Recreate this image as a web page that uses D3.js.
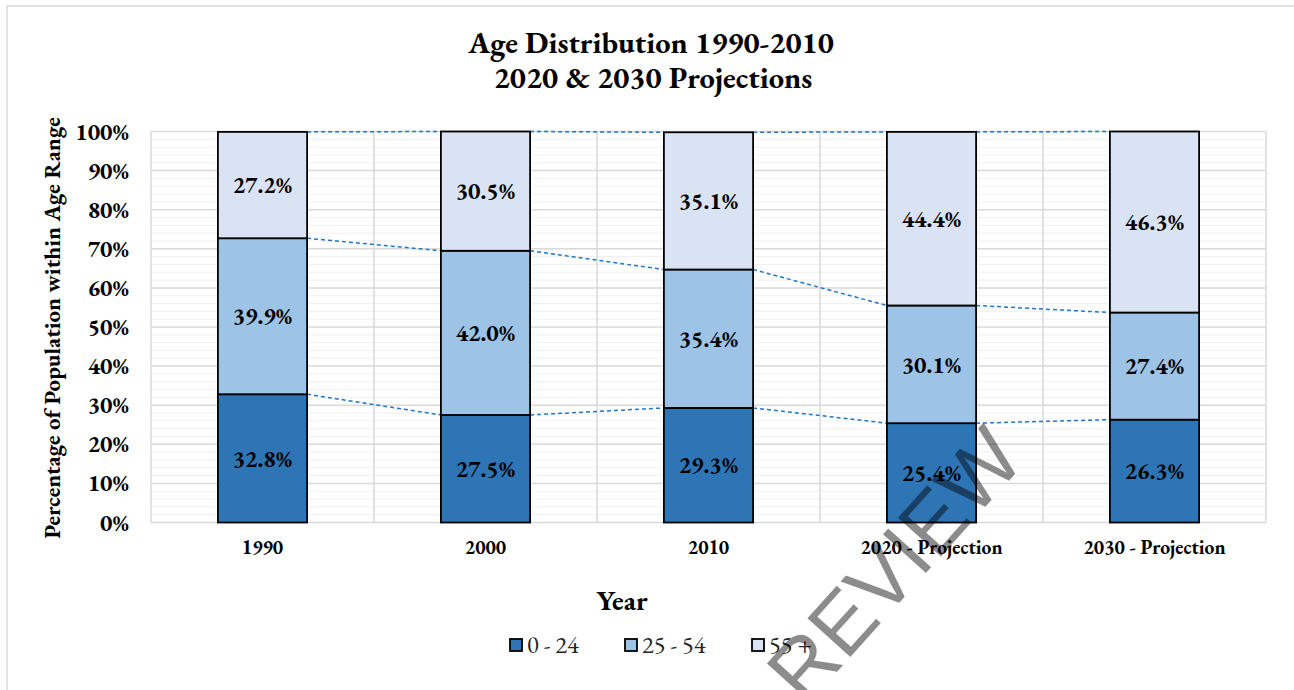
<!DOCTYPE html>
<html>
<head>
<meta charset="utf-8">
<script src="https://cdn.jsdelivr.net/npm/d3@7"></script>
<style>
  html, body { margin: 0; padding: 0; background: #fff; }
  svg { display: block; }
  text.g { font-family: 'EB Garamond', 'Liberation Serif', serif; }
</style>
</head>
<body>
<svg id="chart" width="1294" height="690"></svg>
<script>
const categories = ["1990", "2000", "2010", "2020 - Projection", "2030 - Projection"];
const seriesNames = ["0 - 24", "25 - 54", "55 +"];
const age0to24 = [32.8, 27.5, 29.3, 25.4, 26.3];
const age25to54 = [39.9, 42.0, 35.4, 30.1, 27.4];
const age55plus = [27.2, 30.5, 35.1, 44.4, 46.3];
const yTicks = [0, 10, 20, 30, 40, 50, 60, 70, 80, 90, 100];
const colors = ["#2e75b6", "#9dc3e6", "#dae3f3"];

const seriesValues = [age0to24, age25to54, age55plus];
const rows = categories.map((c, i) => {
  const r = { cat: c };
  seriesNames.forEach((s, j) => r[s] = seriesValues[j][i]);
  return r;
});
const stacked = d3.stack().keys(seriesNames)(rows);

const svg = d3.select("#chart");
const pLeft = 151, pRight = 1266, pTop = 131.5, pBottom = 522.5;

// outer frame
svg.append("rect").attr("x", 7).attr("y", 6).attr("width", 1300).attr("height", 700)
  .attr("fill", "none").attr("stroke", "#d9d9d9").attr("stroke-width", 1.5);

const x = d3.scaleBand().domain(categories).range([pLeft, pRight]).paddingInner(0.6).paddingOuter(0.3);
const y = d3.scaleLinear().domain([0, 100]).range([pBottom, pTop]);

// minor gridlines
const minor = d3.range(0, 101, 2).filter(v => v % 10 !== 0);
svg.append("g").selectAll("line").data(minor).join("line")
  .attr("x1", pLeft).attr("x2", pRight).attr("y1", d => y(d)).attr("y2", d => y(d))
  .attr("stroke", "#f0f0f0").attr("stroke-width", 1);

// major gridlines
svg.append("g").selectAll("line").data(yTicks).join("line")
  .attr("x1", pLeft).attr("x2", pRight).attr("y1", d => y(d)).attr("y2", d => y(d))
  .attr("stroke", "#d9d9d9").attr("stroke-width", 1.5);

// vertical gridlines at category boundaries
const step = x.step();
const bounds = d3.range(categories.length + 1).map(i => pLeft + i * step);
svg.append("g").selectAll("line").data(bounds).join("line")
  .attr("x1", d => d).attr("x2", d => d).attr("y1", pTop).attr("y2", pBottom)
  .attr("stroke", "#d9d9d9").attr("stroke-width", 1.5);

// series lines (dashed connectors)
const bw = x.bandwidth();
stacked.forEach(layer => {
  for (let i = 0; i < categories.length - 1; i++) {
    const a = layer[i], b = layer[i + 1];
    svg.append("line")
      .attr("x1", x(categories[i]) + bw).attr("y1", y(a[1]))
      .attr("x2", x(categories[i + 1])).attr("y2", y(b[1]))
      .attr("stroke", "#1f77c8").attr("stroke-width", 1.5)
      .attr("stroke-dasharray", "4,3");
  }
});

// bars
stacked.forEach((layer, j) => {
  svg.append("g").selectAll("rect").data(layer).join("rect")
    .attr("x", d => x(d.data.cat))
    .attr("y", d => y(d[1]))
    .attr("width", bw)
    .attr("height", d => y(d[0]) - y(d[1]))
    .attr("fill", colors[j])
    .attr("stroke", "#000").attr("stroke-width", 1.8);
});

// labels
stacked.forEach((layer, j) => {
  svg.append("g").selectAll("text").data(layer).join("text")
    .attr("class", "g")
    .attr("x", d => x(d.data.cat) + bw / 2)
    .attr("y", d => y((d[0] + d[1]) / 2))
    .attr("dy", "0.35em")
    .attr("text-anchor", "middle")
    .attr("font-size", 23.5).attr("font-weight", "bold").attr("fill", "#000")
    .text(d => (d[1] - d[0]).toFixed(1) + "%");
});

// y axis
const yAxis = d3.axisLeft(y).tickValues(yTicks).tickFormat(d => d + "%").tickSize(0).tickPadding(0);
const yg = svg.append("g").attr("transform", `translate(${pLeft - 22},0)`).call(yAxis);
yg.select(".domain").remove();
yg.selectAll("text").attr("class", "g").attr("font-size", 23.5).attr("font-weight", "bold").attr("fill", "#000");

// x axis
const xAxis = d3.axisBottom(x).tickSize(0).tickPadding(0);
const xg = svg.append("g").attr("transform", `translate(0,${pBottom + 18})`).call(xAxis);
xg.select(".domain").remove();
xg.selectAll("text").attr("class", "g").attr("font-size", 19.6).attr("font-weight", "bold").attr("fill", "#000");

// titles
svg.append("text").attr("class", "g").attr("x", 651).attr("y", 53).attr("text-anchor", "middle")
  .attr("font-size", 30.5).attr("font-weight", "bold").text("Age Distribution 1990-2010");
svg.append("text").attr("class", "g").attr("x", 653).attr("y", 88).attr("text-anchor", "middle")
  .attr("font-size", 30.5).attr("font-weight", "bold").text("2020 & 2030 Projections");

svg.append("text").attr("class", "g").attr("transform", "translate(60,328) rotate(-90)").attr("text-anchor", "middle")
  .attr("font-size", 23).attr("font-weight", "bold").text("Percentage of Population within Age Range");

svg.append("text").attr("class", "g").attr("x", 622).attr("y", 610).attr("text-anchor", "middle")
  .attr("font-size", 28).attr("font-weight", "bold").text("Year");

// legend
const legendX = [510, 625, 752];
const lg = svg.append("g").selectAll("g").data(seriesNames).join("g")
  .attr("transform", (d, i) => `translate(${legendX[i]},639)`);
lg.append("rect").attr("width", 12).attr("height", 12)
  .attr("fill", (d, i) => colors[i]).attr("stroke", "#000").attr("stroke-width", 1.8);
lg.append("text").attr("class", "g").attr("x", 17).attr("y", 14).attr("font-size", 24.5).attr("fill", "#262626").text(d => d);

// watermark
svg.append("text").attr("transform", "translate(916,584) rotate(-48)")
  .attr("text-anchor", "middle")
  .style("font-family", "'Liberation Sans', Arial, sans-serif").attr("font-size", 84)
  .attr("fill", "#000").attr("fill-opacity", 0.45).text("REVIEW");
</script>
</body>
</html>
